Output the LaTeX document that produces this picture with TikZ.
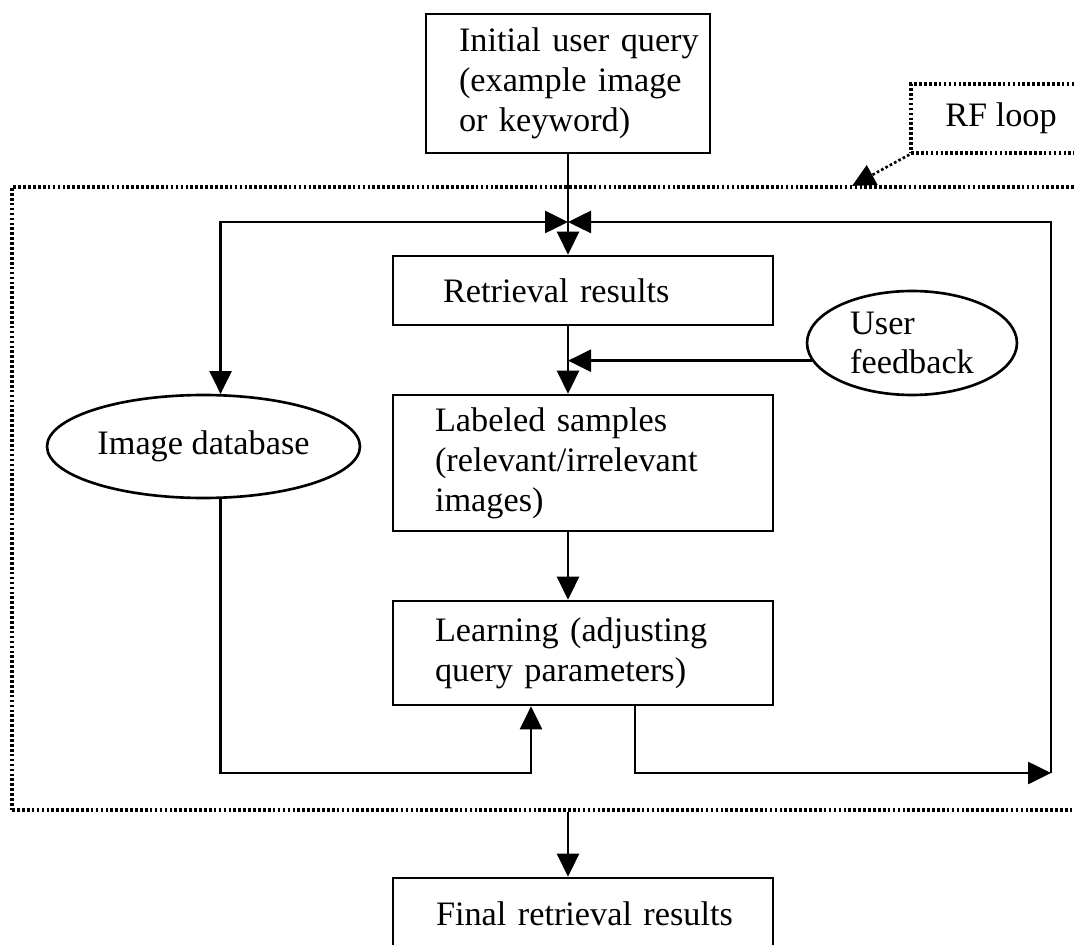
\documentclass[tikz,border=0pt]{standalone}
\usepackage{fontspec}
\setmainfont{Liberation Serif}
\usetikzlibrary{shapes.geometric,arrows.meta}
\tikzset{
  box/.style={draw, rectangle, line width=1.5pt, inner xsep=0pt, inner ysep=0pt, align=left},
  oval/.style={draw, ellipse, line width=1.5pt, inner sep=0pt, align=left},
  loopbox/.style={draw, rectangle, line width=1.9pt, dash pattern=on 1.5pt off 1.3pt},
  arr/.style={line width=1.5pt, -{Triangle[length=0.46cm,width=0.44cm]}},
  darr/.style={line width=1.5pt, {Triangle[length=0.46cm,width=0.44cm]}-{Triangle[length=0.46cm,width=0.44cm]}},
  dotline/.style={line width=1.5pt, dash pattern=on 1.5pt off 1.3pt}
}
\begin{document}
\begin{tikzpicture}[x=0.02cm, y=-0.02cm, font=\fontsize{19.5}{22.7}\selectfont]
  \useasboundingbox (0,0) rectangle (1074,945);

  \node (rfarea) [loopbox, minimum width=21.56cm, minimum height=12.46cm] at (551,498.5) {};
  \node (rflabel) [loopbox, minimum width=3.6cm, minimum height=1.38cm] at (1001,118.5) {RF loop};

  \node (query) [box, text width=5.68cm, minimum height=2.78cm] at (568,83.5) {\leftskip=0.66cm Initial user query\\(example image\\or keyword)\par};
  \node (retr) [box, text width=7.6cm, minimum height=1.38cm] at (583,290.5) {\leftskip=1.0cm Retrieval results\par};
  \node (lab) [box, text width=7.6cm, minimum height=2.72cm] at (583,463) {\leftskip=0.84cm Labeled samples\\(relevant/irrelevant\\images)\par};
  \node (learn) [box, text width=7.6cm, minimum height=2.08cm] at (583,653) {\leftskip=0.84cm Learning (adjusting\\query parameters)\par};
  \node (final) [box, text width=7.6cm, minimum height=1.44cm] at (583,914) {\leftskip=0.86cm Final retrieval results\par};

  \node (imgdb) [oval, minimum width=6.26cm, minimum height=2.06cm] at (203.5,446.5) {Image database};
  \node (fb) [oval, minimum width=4.2cm, minimum height=2.08cm] at (912,343) {User\\feedback};

  \coordinate (junc) at (query.south |- 0,222);
  \coordinate (rcorner) at (1051,773);
  \coordinate (rftip) at (852,186);

  \draw[arr] (query.south) -- (junc |- retr.north);
  \draw[darr] (imgdb.72) |- (junc);
  \draw[arr] (rcorner) |- (junc);
  \draw[arr] (junc |- retr.south) -- (junc |- lab.north);
  \draw[arr] (fb.190) -- (fb.190 -| junc);
  \draw[arr] (junc |- lab.south) -- (junc |- learn.north);
  \draw[arr] ([xshift=1.04cm]learn.south) |- (rcorner);
  \draw[arr] (imgdb.-72) -- (imgdb.-72 |- rcorner) -| ([xshift=-1.04cm]learn.south);
  \draw[arr] (junc |- rfarea.south) -- (junc |- final.north);
  \draw[arr, dotline] (rflabel.south west) -- (rftip);
\end{tikzpicture}
\end{document}
